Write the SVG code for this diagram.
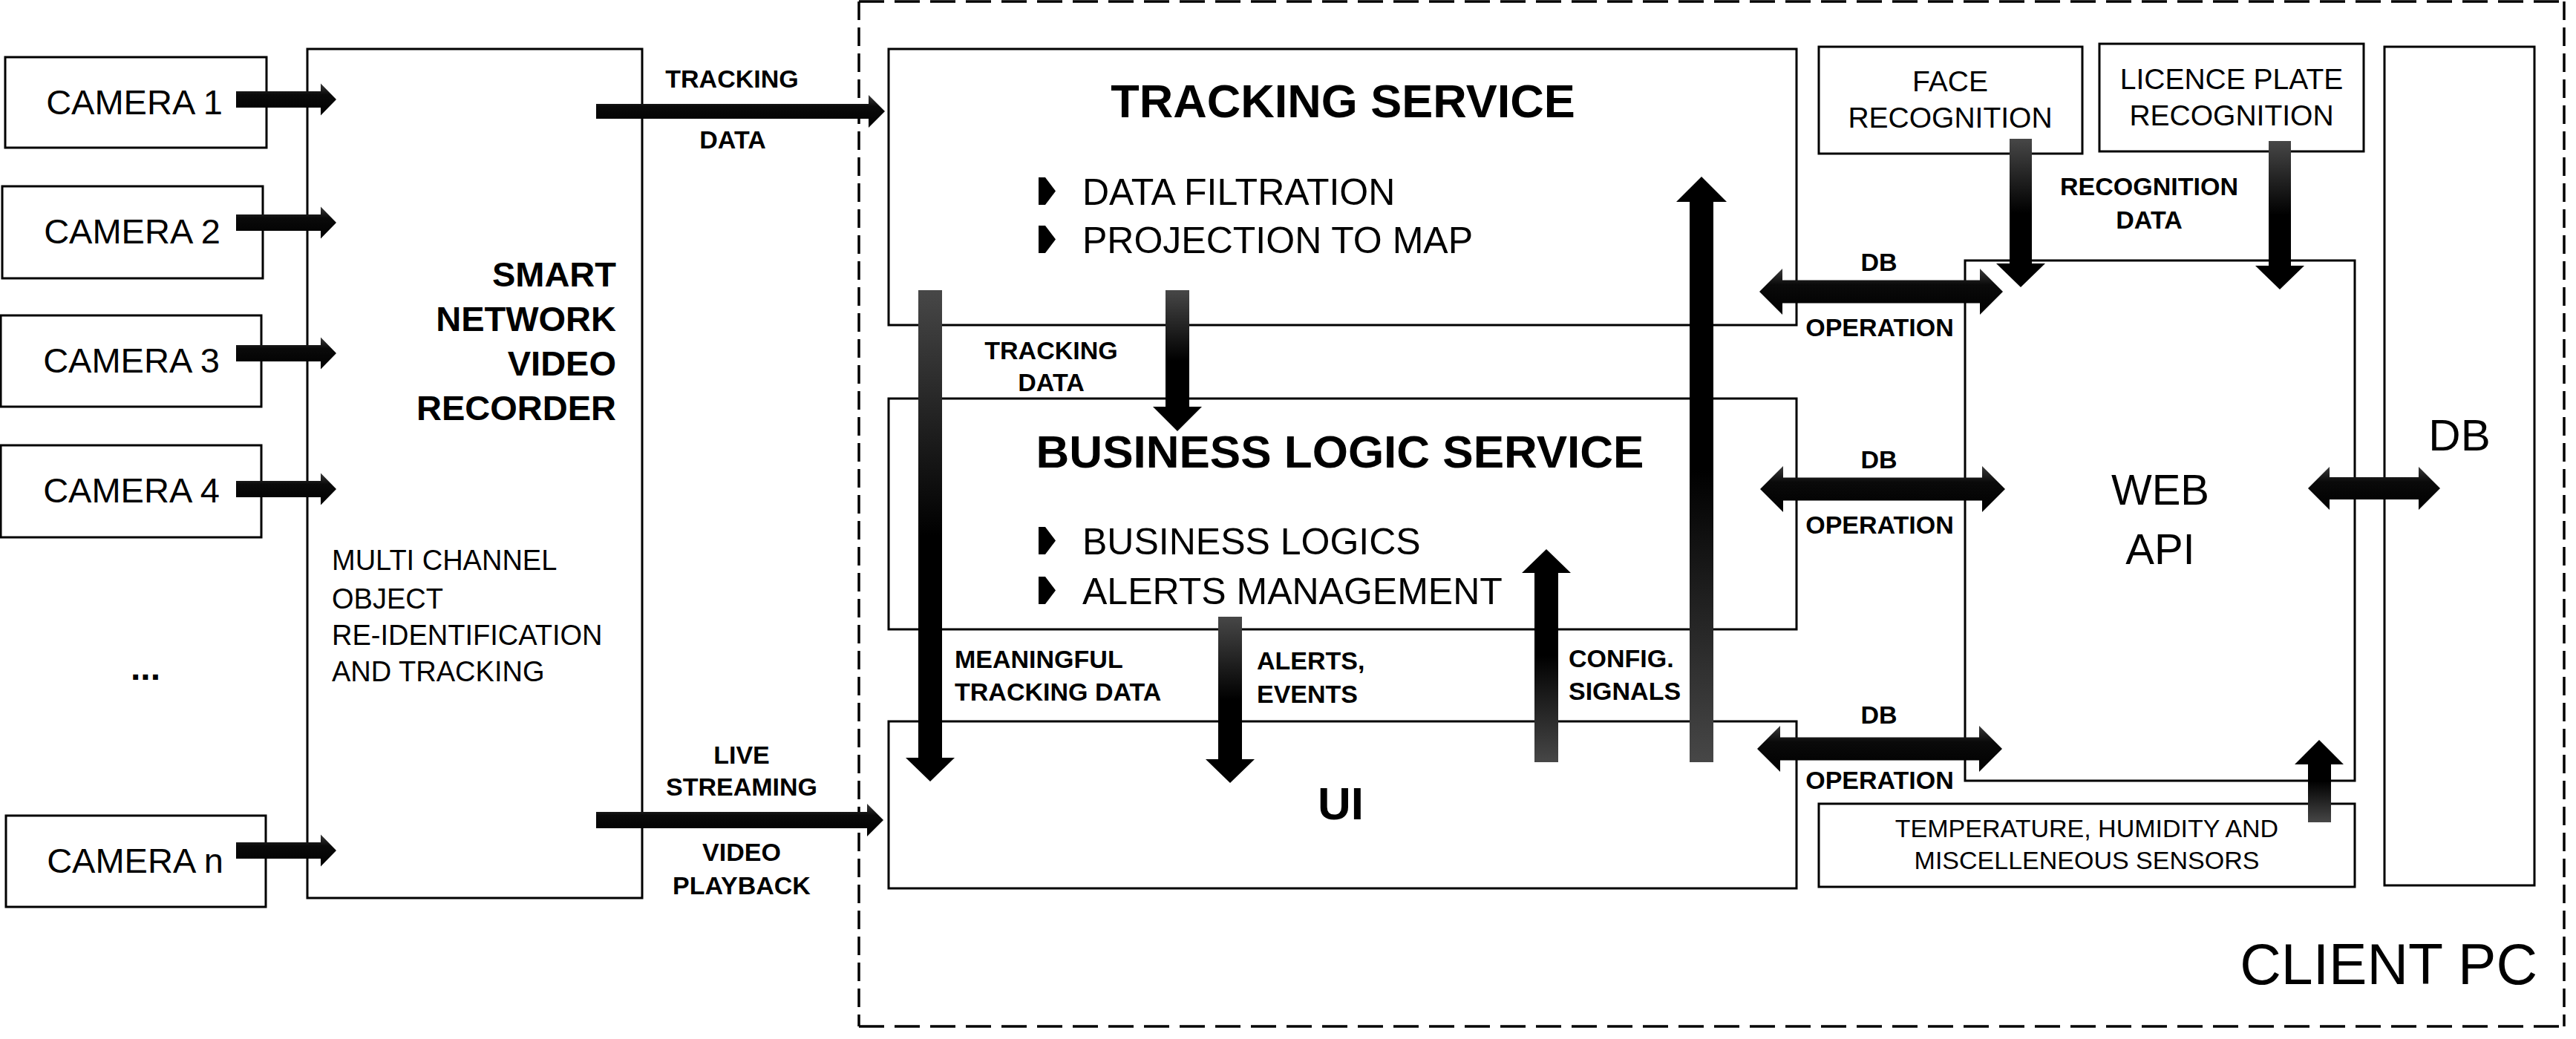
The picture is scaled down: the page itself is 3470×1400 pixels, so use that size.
<svg xmlns="http://www.w3.org/2000/svg" width="3470" height="1400" viewBox="0 0 3470 1400">
<style>
.box{fill:#fff;stroke:#000;stroke-width:3}
.t{font-family:"Liberation Sans",Arial,sans-serif;fill:#000}
.b{font-family:"Liberation Sans",Arial,sans-serif;font-weight:bold;fill:#000}
.lbl{font-family:"Liberation Sans",Arial,sans-serif;font-weight:bold;font-size:34px;fill:#000}
.mid{text-anchor:middle}
.end{text-anchor:end}
.ah{fill:url(#gh)}
.ad{fill:url(#gd)}
.au{fill:url(#gu)}
.dh{stroke:#000;stroke-width:3.5;stroke-dasharray:34 14;fill:none}
.dv{stroke:#000;stroke-width:3.5;stroke-dasharray:25 10;fill:none}
</style>
<defs>
<linearGradient id="gh" x1="0" y1="0" x2="0" y2="1">
<stop offset="0" stop-color="#3a3a3a"/><stop offset="0.35" stop-color="#0a0a0a"/><stop offset="1" stop-color="#000"/>
</linearGradient>
<linearGradient id="gd" x1="0" y1="0" x2="0" y2="1">
<stop offset="0" stop-color="#474747"/><stop offset="0.5" stop-color="#000"/><stop offset="1" stop-color="#000"/>
</linearGradient>
<linearGradient id="gu" x1="0" y1="0" x2="0" y2="1">
<stop offset="0" stop-color="#000"/><stop offset="0.5" stop-color="#000"/><stop offset="1" stop-color="#474747"/>
</linearGradient>
<polygon id="bullet" points="0,0 9,0 23,18.5 9,37 0,37"/>
</defs>
<rect width="3470" height="1400" fill="#fff"/>

<g id="client-pc">
<line class="dh" x1="1157" y1="2" x2="3454" y2="2"/>
<line class="dh" x1="1157" y1="1383" x2="3454" y2="1383"/>
<line class="dv" x1="1157" y1="2" x2="1157" y2="1383"/>
<line class="dv" x1="3454" y1="2" x2="3454" y2="1383"/>
<text class="t end" x="3418" y="1326" font-size="77">CLIENT PC</text>
</g>

<g id="camera-1"><rect class="box" x="7" y="77" width="352" height="122"/><text class="t mid" x="181" y="154" font-size="47">CAMERA 1</text></g>
<g id="camera-2"><rect class="box" x="3" y="251" width="351" height="124"/><text class="t mid" x="178" y="328" font-size="47">CAMERA 2</text></g>
<g id="camera-3"><rect class="box" x="1" y="425" width="351" height="123"/><text class="t mid" x="177" y="502" font-size="47">CAMERA 3</text></g>
<g id="camera-4"><rect class="box" x="1" y="600" width="351" height="124"/><text class="t mid" x="177" y="677" font-size="47">CAMERA 4</text></g>
<g id="camera-dots"><text class="b mid" x="196" y="916" font-size="48">...</text></g>
<g id="camera-n"><rect class="box" x="8" y="1099" width="350" height="123"/><text class="t mid" x="182" y="1176" font-size="47">CAMERA n</text></g>

<g id="nvr">
<rect class="box" x="414" y="66" width="451" height="1144"/>
<text class="b end" x="830" y="386" font-size="47">SMART</text>
<text class="b end" x="830" y="446" font-size="47">NETWORK</text>
<text class="b end" x="830" y="506" font-size="47">VIDEO</text>
<text class="b end" x="830" y="566" font-size="47">RECORDER</text>
<text class="t" x="447" y="768" font-size="38">MULTI CHANNEL</text>
<text class="t" x="447" y="820" font-size="38">OBJECT</text>
<text class="t" x="447" y="869" font-size="38">RE-IDENTIFICATION</text>
<text class="t" x="447" y="918" font-size="38">AND TRACKING</text>
</g>

<g id="tracking-service">
<rect class="box" x="1197" y="66" width="1223" height="372"/>
<text class="b mid" x="1809" y="158" font-size="63">TRACKING SERVICE</text>
<use href="#bullet" x="1399" y="239"/>
<text class="t" x="1458" y="276" font-size="50">DATA FILTRATION</text>
<use href="#bullet" x="1399" y="304"/>
<text class="t" x="1458" y="341" font-size="50">PROJECTION TO MAP</text>
</g>

<g id="business-logic-service">
<rect class="box" x="1197" y="537" width="1223" height="311"/>
<text class="b mid" x="1805" y="630" font-size="62">BUSINESS LOGIC SERVICE</text>
<use href="#bullet" x="1399" y="710"/>
<text class="t" x="1458" y="747" font-size="50">BUSINESS LOGICS</text>
<use href="#bullet" x="1399" y="777"/>
<text class="t" x="1458" y="814" font-size="50">ALERTS MANAGEMENT</text>
</g>

<g id="ui">
<rect class="box" x="1197" y="972" width="1223" height="225"/>
<text class="b mid" x="1806" y="1104" font-size="62">UI</text>
</g>

<g id="face-recognition">
<rect class="box" x="2450" y="63" width="355" height="144"/>
<text class="t mid" x="2627" y="123" font-size="39">FACE</text>
<text class="t mid" x="2627" y="172" font-size="39">RECOGNITION</text>
</g>

<g id="licence-plate-recognition">
<rect class="box" x="2828" y="59" width="356" height="145"/>
<text class="t mid" x="3006" y="120" font-size="39">LICENCE PLATE</text>
<text class="t mid" x="3006" y="169" font-size="39">RECOGNITION</text>
</g>

<g id="web-api">
<rect class="box" x="2647" y="351" width="525" height="701"/>
<text class="t mid" x="2910" y="680" font-size="58">WEB</text>
<text class="t mid" x="2910" y="760" font-size="58">API</text>
</g>

<g id="db">
<rect class="box" x="3212" y="63" width="202" height="1130"/>
<text class="t mid" x="3313" y="607" font-size="60">DB</text>
</g>

<g id="sensors">
<rect class="box" x="2450" y="1083" width="722" height="112"/>
<text class="t mid" x="2811" y="1128" font-size="34">TEMPERATURE, HUMIDITY AND</text>
<text class="t mid" x="2811" y="1171" font-size="34">MISCELLENEOUS SENSORS</text>
</g>

<g id="connectors">
<path class="ah" d="M318,123 L432,123 L432,112.5 L453,134 L432,155.5 L432,145 L318,145 Z"/>
<path class="ah" d="M318,289 L432,289 L432,278.5 L453,300 L432,321.5 L432,311 L318,311 Z"/>
<path class="ah" d="M318,465 L432,465 L432,454.5 L453,476 L432,497.5 L432,487 L318,487 Z"/>
<path class="ah" d="M318,648 L432,648 L432,637.5 L453,659 L432,680.5 L432,670 L318,670 Z"/>
<path class="ah" d="M318,1135 L432,1135 L432,1124.5 L453,1146 L432,1167.5 L432,1157 L318,1157 Z"/>

<path class="ah" d="M803,140 L1170,140 L1170,128 L1192,150 L1170,172 L1170,160 L803,160 Z"/>
<text class="lbl mid" x="986" y="118">TRACKING</text>
<text class="lbl mid" x="987" y="200">DATA</text>

<path class="ah" d="M803,1094 L1168,1094 L1168,1083 L1190,1105 L1168,1127 L1168,1116 L803,1116 Z"/>
<text class="lbl mid" x="999" y="1029">LIVE</text>
<text class="lbl mid" x="999" y="1072">STREAMING</text>
<text class="lbl mid" x="999" y="1160">VIDEO</text>
<text class="lbl mid" x="999" y="1205">PLAYBACK</text>

<path class="ad" d="M1237,391 L1269,391 L1269,1021 L1286,1021 L1253,1053 L1220,1021 L1237,1021 Z"/>
<path class="ad" d="M1570,391 L1602,391 L1602,548 L1619,548 L1586,581 L1553,548 L1570,548 Z"/>
<text class="lbl mid" x="1416" y="484">TRACKING</text>
<text class="lbl mid" x="1416" y="527">DATA</text>

<path class="ad" d="M1641,831 L1673,831 L1673,1023 L1690,1023 L1657,1055 L1624,1023 L1641,1023 Z"/>
<path class="au" d="M2067,1027 L2099,1027 L2099,772 L2116,772 L2083,740 L2050,772 L2067,772 Z"/>
<path class="au" d="M2276,1027 L2308,1027 L2308,272 L2326,272 L2292,238 L2258,272 L2276,272 Z"/>
<text class="lbl" x="1286" y="900">MEANINGFUL</text>
<text class="lbl" x="1286" y="944">TRACKING DATA</text>
<text class="lbl" x="1693" y="902">ALERTS,</text>
<text class="lbl" x="1693" y="947">EVENTS</text>
<text class="lbl" x="2113" y="899">CONFIG.</text>
<text class="lbl" x="2113" y="943">SIGNALS</text>

<path class="ad" d="M2707,187 L2737,187 L2737,355 L2755,355 L2722,387 L2689,355 L2707,355 Z"/>
<path class="ad" d="M3056,190 L3086,190 L3086,358 L3104,358 L3071,390 L3038,358 L3056,358 Z"/>
<text class="lbl mid" x="2895" y="263">RECOGNITION</text>
<text class="lbl mid" x="2895" y="308">DATA</text>

<path class="ah" d="M2370,393 L2401,362 L2401,377.5 L2667,377.5 L2667,362 L2698,393 L2667,424 L2667,408.5 L2401,408.5 L2401,424 Z"/>
<text class="lbl mid" x="2531" y="365">DB</text>
<text class="lbl mid" x="2532" y="453">OPERATION</text>
<path class="ah" d="M2371,659 L2402,628 L2402,643.5 L2670,643.5 L2670,628 L2701,659 L2670,690 L2670,674.5 L2402,674.5 L2402,690 Z"/>
<text class="lbl mid" x="2531" y="631">DB</text>
<text class="lbl mid" x="2532" y="719">OPERATION</text>
<path class="ah" d="M2367,1009 L2398,978 L2398,993.5 L2666,993.5 L2666,978 L2697,1009 L2666,1040 L2666,1024.5 L2398,1024.5 L2398,1040 Z"/>
<text class="lbl mid" x="2531" y="975">DB</text>
<text class="lbl mid" x="2532" y="1063">OPERATION</text>

<path class="ah" d="M3109,658 L3138,629 L3138,643 L3258,643 L3258,629 L3287,658 L3258,687 L3258,673 L3138,673 L3138,687 Z"/>
<path class="au" d="M3109,1108 L3140,1108 L3140,1030 L3157,1030 L3124,997 L3091,1030 L3109,1030 Z"/>
</g>
</svg>
